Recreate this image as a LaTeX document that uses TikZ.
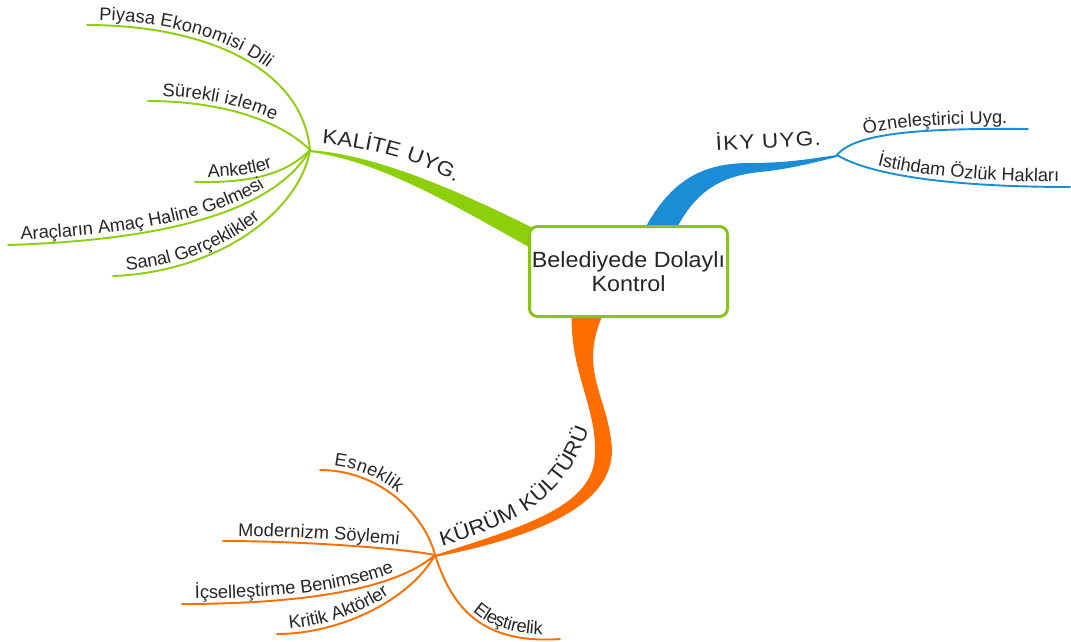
\documentclass[tikz,border=0pt]{standalone}
\usepackage{fontspec}
\usetikzlibrary{decorations.text}
\newfontfamily\mapfont[FakeStretch=1.06]{Liberation Sans}
\newfontfamily\leaffam{Liberation Sans}
\newfontfamily\branchfontfam[FakeStretch=1.1,LetterSpace=6]{Liberation Sans}
\newcommand\leaffont{\leaffam\fontsize{18.3}{22}\selectfont}
\newcommand\branchfont{\branchfontfam\fontsize{20.5}{24}\selectfont}
\definecolor{kgreen}{HTML}{8CCF0A}
\definecolor{boxgreen}{HTML}{8CC414}
\definecolor{iblue}{HTML}{1B8DD6}
\definecolor{korange}{HTML}{FF6D00}
\definecolor{ink}{HTML}{262626}
\tikzset{
  twigline/.style={draw=#1, line width=1.9pt, line cap=round},
  centrebox/.style={draw=boxgreen, line width=3pt, rounded corners=8pt, fill=white,
    minimum width=198pt, minimum height=90pt, align=center, inner sep=0pt,
    font=\mapfont\fontsize{22}{24.5}\selectfont, text=ink},
  branchlabel/.style={font=\branchfont, text=ink, inner sep=0pt},
}
% a thin branch with its label written along the curve
% #1 colour, #2 start, #3 #4 controls, #5 end, #6 indent of the text, #7 text
\newcommand\twig[7]{%
  \draw[twigline=#1] (#2) .. controls #3 and #4 .. (#5);
  \path[decorate, decoration={text along path, text={|\leaffont|#7}, text color=ink,
    raise=5pt, text align={left, left indent=#6}}] (#2) .. controls #3 and #4 .. (#5);
}
\begin{document}
\begin{tikzpicture}[x=1pt, y=-1pt]
\useasboundingbox (0,0) rectangle (1071,642);

% hubs
\coordinate (G) at (310,150);
\coordinate (B) at (837,155);
\coordinate (O) at (435,555);

% leaf ends
\coordinate (g1) at (87,25);
\coordinate (g2) at (148,101);
\coordinate (g3) at (195,182);
\coordinate (g4) at (8,245);
\coordinate (g5) at (113,276);
\coordinate (b1) at (1028,129);
\coordinate (b2) at (1070,187);
\coordinate (o1) at (320,470);
\coordinate (o2) at (223,541);
\coordinate (o3) at (182,604);
\coordinate (o4) at (277,634);
\coordinate (o5) at (560,639);

% ribbon ends tucked under the central box
\coordinate (gA) at (545,234);
\coordinate (gB) at (545,256);
\coordinate (bA) at (641,236);
\coordinate (bB) at (673,236);
\coordinate (oA) at (572,308);
\coordinate (oB) at (606,308);

% tapered trunks
\fill[kgreen] (G) .. controls (370,155) and (440,181) .. (gA)
  -- (gB) .. controls (450,203) and (380,161) .. (310,152) -- cycle;
\fill[iblue] (bA) .. controls (668,182) and (700,163) .. (750,163)
  .. controls (790,163) and (815,158) .. (B)
  -- (837,157) .. controls (812,163) and (790,169) .. (760,172)
  .. controls (720,176) and (693,192) .. (bB) -- cycle;
\fill[korange] (oA) .. controls (568,370) and (597,405) .. (595,455)
  .. controls (593,505) and (530,525) .. (O)
  -- (435,557) .. controls (540,536) and (612,505) .. (612,450)
  .. controls (609,395) and (575,370) .. (oB) -- cycle;

% central topic
\node[centrebox] (C) at (628.5,271.5) {Belediyede Dolaylı\\Kontrol};

% branch titles
\path[decorate, decoration={text along path, text={|\branchfont|KALİTE UYG.}, text color=ink}]
  (322,144) .. controls (375,148) and (425,161) .. (480,196) -- (520,225);
\node[branchlabel, rotate=3, anchor=base west] (iky) at (716,151) {İKY UYG.};
\path[decorate, decoration={text along path, text={|\branchfont|KÜRÜM KÜLTÜRÜ}, text color=ink}]
  (442,546) .. controls (500,528) and (560,510) .. (588,432) -- (600,380);

% KALİTE UYG.
\twig{kgreen}{g1}{(200,25)}{(302,65)}{G}{12pt}{Piyasa Ekonomisi Dili}
\twig{kgreen}{g2}{(220,101)}{(280,120)}{G}{14pt}{Sürekli izleme}
\twig{kgreen}{g3}{(250,183)}{(285,175)}{G}{13pt}{Anketler}
\twig{kgreen}{g4}{(170,240)}{(275,210)}{G}{13pt}{Araçların Amaç Haline Gelmesi}
\twig{kgreen}{g5}{(220,272)}{(300,210)}{G}{14pt}{Sanal Gerçeklikler}

% İKY UYG.
\twig{iblue}{B}{(855,133)}{(920,128)}{b1}{33pt}{Özneleştirici Uyg.}
\twig{iblue}{B}{(870,175)}{(950,187)}{b2}{42pt}{İstihdam Özlük Hakları}

% KÜRÜM KÜLTÜRÜ
\twig{korange}{o1}{(380,470)}{(425,515)}{O}{13pt}{Esneklik}
\twig{korange}{o2}{(300,541)}{(400,548)}{O}{15pt}{Modernizm Söylemi}
\twig{korange}{o3}{(300,604)}{(395,590)}{O}{13pt}{İçselleştirme Benimseme}
\twig{korange}{o4}{(340,634)}{(410,600)}{O}{13pt}{Kritik Aktörler}
\twig{korange}{O}{(450,600)}{(475,645)}{o5}{70pt}{Eleştirelik}
\end{tikzpicture}
\end{document}
